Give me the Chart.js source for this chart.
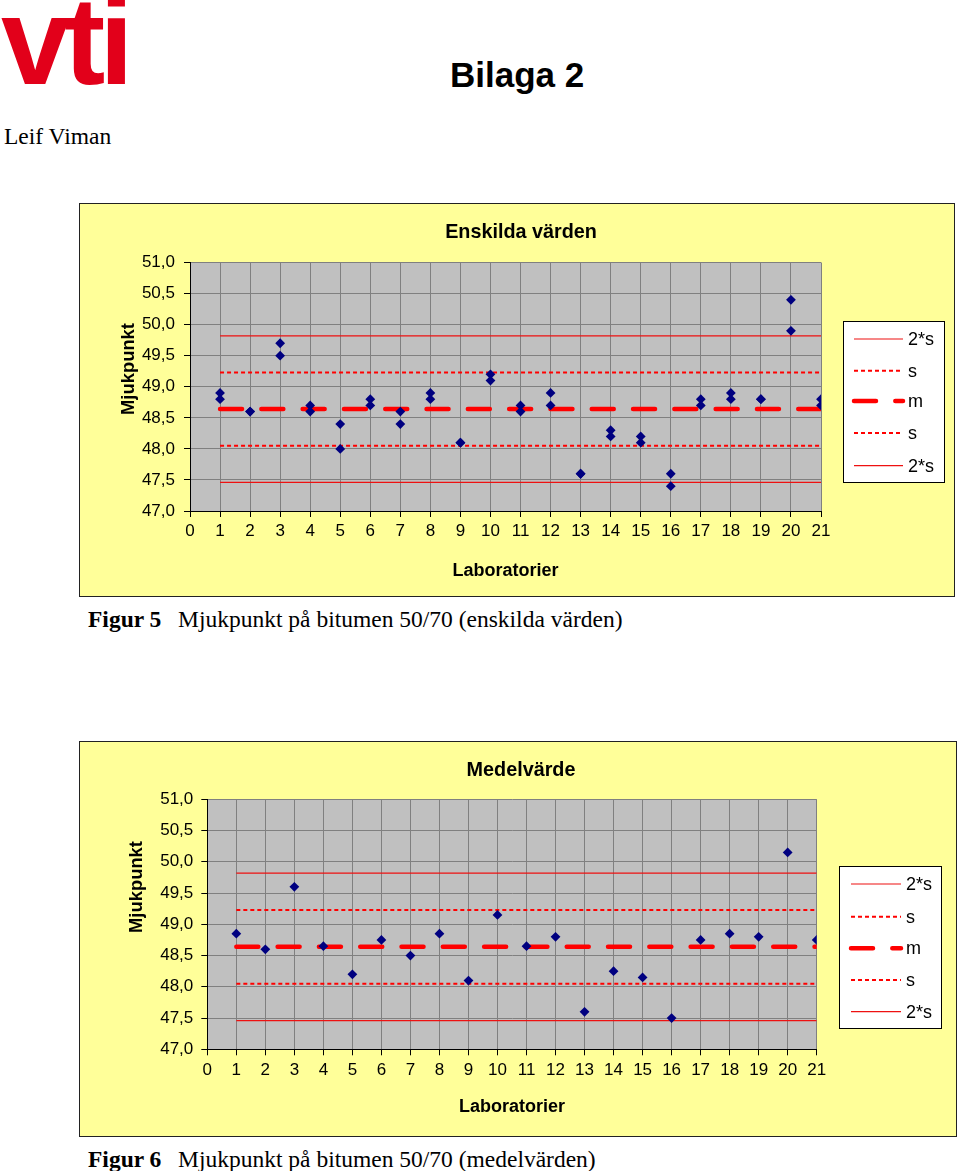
<!DOCTYPE html>
<html>
<head>
<meta charset="utf-8">
<script src="https://cdn.jsdelivr.net/npm/chart.js@4/dist/chart.umd.min.js"></script>
<style>
  html, body { margin: 0; padding: 0; background: #fff; }
  body { width: 960px; height: 1171px; position: relative; overflow: hidden; }
  .abs { position: absolute; white-space: nowrap; }
  .serif { font-family: 'Liberation Serif', 'Times New Roman', serif; font-size: 23.5px; line-height: 28px; color: #000; }
  .panel { position: absolute; box-sizing: border-box; border: 1px solid #222; background: #FFFF99; }
  .panel canvas { position: absolute; left: 0; top: 0; }
</style>
</head>
<body>
<div class="abs" id="logo" style="left:1px; top:-34px; font-family:'Liberation Sans', Arial, sans-serif; font-weight:bold; font-size:124px; line-height:150px; color:#E2001A; letter-spacing:-6px;">vti</div>
<div class="abs" style="left:450px; top:55px; font-family:'Liberation Sans', Arial, sans-serif; font-weight:bold; font-size:35px; line-height:40px; color:#000;">Bilaga 2</div>
<div class="abs serif" style="left:4px; top:122px;">Leif Viman</div>

<div class="panel" style="left:79px; top:203px; width:876px; height:394px;"><canvas id="c1" width="874" height="392"></canvas></div>
<div class="abs serif" style="left:88px; top:605px;"><b>Figur 5</b></div>
<div class="abs serif" style="left:178px; top:605px;">Mjukpunkt på bitumen 50/70 (enskilda värden)</div>

<div class="panel" style="left:79px; top:741px; width:878px; height:396px;"><canvas id="c2" width="876" height="394"></canvas></div>
<div class="abs serif" style="left:88px; top:1145px;"><b>Figur 6</b></div>
<div class="abs serif" style="left:178px; top:1145px;">Mjukpunkt på bitumen 50/70 (medelvärden)</div>

<script>
// ---------------- DATA ----------------
const labs = [1, 2, 3, 4, 5, 6, 7, 8, 9, 10, 11, 12, 13, 14, 15, 16, 17, 18, 19, 20, 21];
const result1 = [48.9, 48.6, 49.7, 48.7, 48.4, 48.8, 48.6, 48.9, 48.1, 49.2, 48.7, 48.9, 47.6, 48.3, 48.2, 47.6, 48.8, 48.9, 48.8, 50.4, 48.8];
const result2 = [48.8, 48.6, 49.5, 48.6, 48.0, 48.7, 48.4, 48.8, 48.1, 49.1, 48.6, 48.7, 47.6, 48.2, 48.1, 47.4, 48.7, 48.8, 48.8, 49.9, 48.7];
const meanValues = [48.85, 48.6, 49.6, 48.65, 48.2, 48.75, 48.5, 48.85, 48.1, 49.15, 48.65, 48.8, 47.6, 48.25, 48.15, 47.5, 48.75, 48.85, 48.8, 50.15, 48.75];
const limitLabels = ['2*s', 's', 'm', 's', '2*s'];
const limitValues = [49.82, 49.23, 48.64, 48.05, 47.46];
const limitStart = 1, limitEnd = 21;
const xTicksRange = [0, 21];
const yTicksRange = [47.0, 51.0];
const yTickStep = 0.5;

// ---------------- STYLE ----------------
const FONT = "'Liberation Sans', Arial, sans-serif";
Chart.defaults.font.family = FONT;
Chart.defaults.color = '#000';

const limitStyles = [
  { color: '#EE1111', width: 1.2, dash: [] },
  { color: '#FF0000', width: 2, dash: [4, 3] },
  { color: '#FF0000', width: 4.5, dash: [22, 19.3], cap: 'round' },
  { color: '#FF0000', width: 2, dash: [4, 3] },
  { color: '#EE1111', width: 1.2, dash: [] }
];

function pts(ys) { return labs.map((x, i) => ({ x: x, y: ys[i] })); }

function decor(o) {
  return {
    id: 'decor',
    beforeDraw(chart) {
      const { ctx, chartArea: a } = chart;
      ctx.save();
      ctx.fillStyle = '#C0C0C0';
      ctx.fillRect(a.left, a.top, a.right - a.left, a.bottom - a.top);
      ctx.restore();
    },
    afterDraw(chart) {
      const ctx = chart.ctx;
      ctx.save();
      ctx.fillStyle = '#000';
      ctx.font = 'bold 19.8px ' + FONT;
      ctx.textAlign = 'center';
      ctx.textBaseline = 'middle';
      ctx.fillText(o.title, o.titleX, o.titleY);
      ctx.save();
      ctx.translate(o.yTitleX, o.yTitleY);
      ctx.rotate(-Math.PI / 2);
      ctx.font = 'bold 18.4px ' + FONT;
      ctx.fillText('Mjukpunkt', 0, 0);
      ctx.restore();
      const L = o.legend;
      ctx.fillStyle = '#fff';
      ctx.fillRect(L.x, L.y, L.w, L.h);
      ctx.strokeStyle = '#000';
      ctx.lineWidth = 1;
      ctx.strokeRect(L.x + 0.5, L.y + 0.5, L.w - 1, L.h - 1);
      ctx.font = '18px ' + FONT;
      ctx.textAlign = 'left';
      limitLabels.forEach((lab, i) => {
        const st = limitStyles[i];
        const y = L.items[i];
        ctx.beginPath();
        ctx.strokeStyle = st.color;
        ctx.lineWidth = st.width;
        ctx.lineCap = st.cap || 'butt';
        ctx.setLineDash(st.dash);
        ctx.moveTo(L.lx1, y);
        ctx.lineTo(L.lx2, y);
        ctx.stroke();
        ctx.setLineDash([]);
        ctx.fillStyle = '#000';
        ctx.fillText(lab, L.tx, y + 1);
      });
      ctx.restore();
    }
  };
}

function makeChart(id, pointSeries, o) {
  const datasets = [];
  pointSeries.forEach(s => datasets.push({
    data: pts(s), showLine: false, order: 0,
    pointStyle: 'rectRot', pointRadius: 4.9, pointBorderWidth: 0,
    backgroundColor: '#000080', borderColor: '#000080'
  }));
  limitValues.forEach((v, i) => {
    const st = limitStyles[i];
    datasets.push({
      data: [{ x: limitStart, y: v }, { x: limitEnd, y: v }],
      showLine: true, order: 1, pointRadius: 0,
      borderColor: st.color, borderWidth: st.width, borderDash: st.dash,
      borderCapStyle: st.cap || 'butt', fill: false
    });
  });
  return new Chart(document.getElementById(id), {
    type: 'scatter',
    data: { datasets },
    options: {
      responsive: false, animation: false, events: [],
      layout: { padding: o.pad },
      plugins: { legend: { display: false }, title: { display: false }, tooltip: { enabled: false } },
      scales: {
        x: {
          type: 'linear', min: xTicksRange[0], max: xTicksRange[1],
          ticks: { stepSize: 1, font: { size: 17 }, color: '#000', padding: o.xTickPad, maxRotation: 0, autoSkip: false },
          grid: { color: '#808080', lineWidth: 1, tickLength: 6, tickColor: '#000', drawTicks: true },
          border: { color: '#000', width: 1 },
          title: { display: true, text: 'Laboratorier', font: { size: 18, weight: 'bold' }, color: '#000', padding: { top: 0, bottom: o.xTitlePad } },
          afterFit(s) { s.height = 75; }
        },
        y: {
          type: 'linear', min: yTicksRange[0], max: yTicksRange[1],
          ticks: { stepSize: yTickStep, font: { size: 17 }, color: '#000', padding: o.yTickPad,
            callback: v => v.toFixed(1).replace('.', ',') },
          grid: { color: '#808080', lineWidth: 1, tickLength: 6, tickColor: '#000', drawTicks: true },
          border: { color: '#000', width: 1 },
          afterFit(s) { s.width = 60; }
        }
      }
    },
    plugins: [decor(o)]
  });
}

makeChart('c1', [result1, result2], {
  pad: { left: 50, top: 58.5, right: 133, bottom: 10 },
  xTitlePad: 4.2, yTickPad: 9, xTickPad: 4.5,
  title: 'Enskilda värden', titleX: 441, titleY: 29,
  yTitleX: 48.5, yTitleY: 165,
  legend: { x: 763, y: 117, w: 102, h: 162, items: [135, 166.7, 197, 229, 261.7], lx1: 774, lx2: 823, tx: 828 }
});

makeChart('c2', [meanValues], {
  pad: { left: 67.3, top: 57.3, right: 139.3, bottom: 11.7 },
  xTitlePad: 6.5, yTickPad: 8, xTickPad: 4.5,
  title: 'Medelvärde', titleX: 441, titleY: 29,
  yTitleX: 57, yTitleY: 145,
  legend: { x: 759, y: 124, w: 103, h: 163, items: [142, 174.7, 206.3, 238, 269.7], lx1: 771, lx2: 821, tx: 826 }
});
</script>
</body>
</html>
